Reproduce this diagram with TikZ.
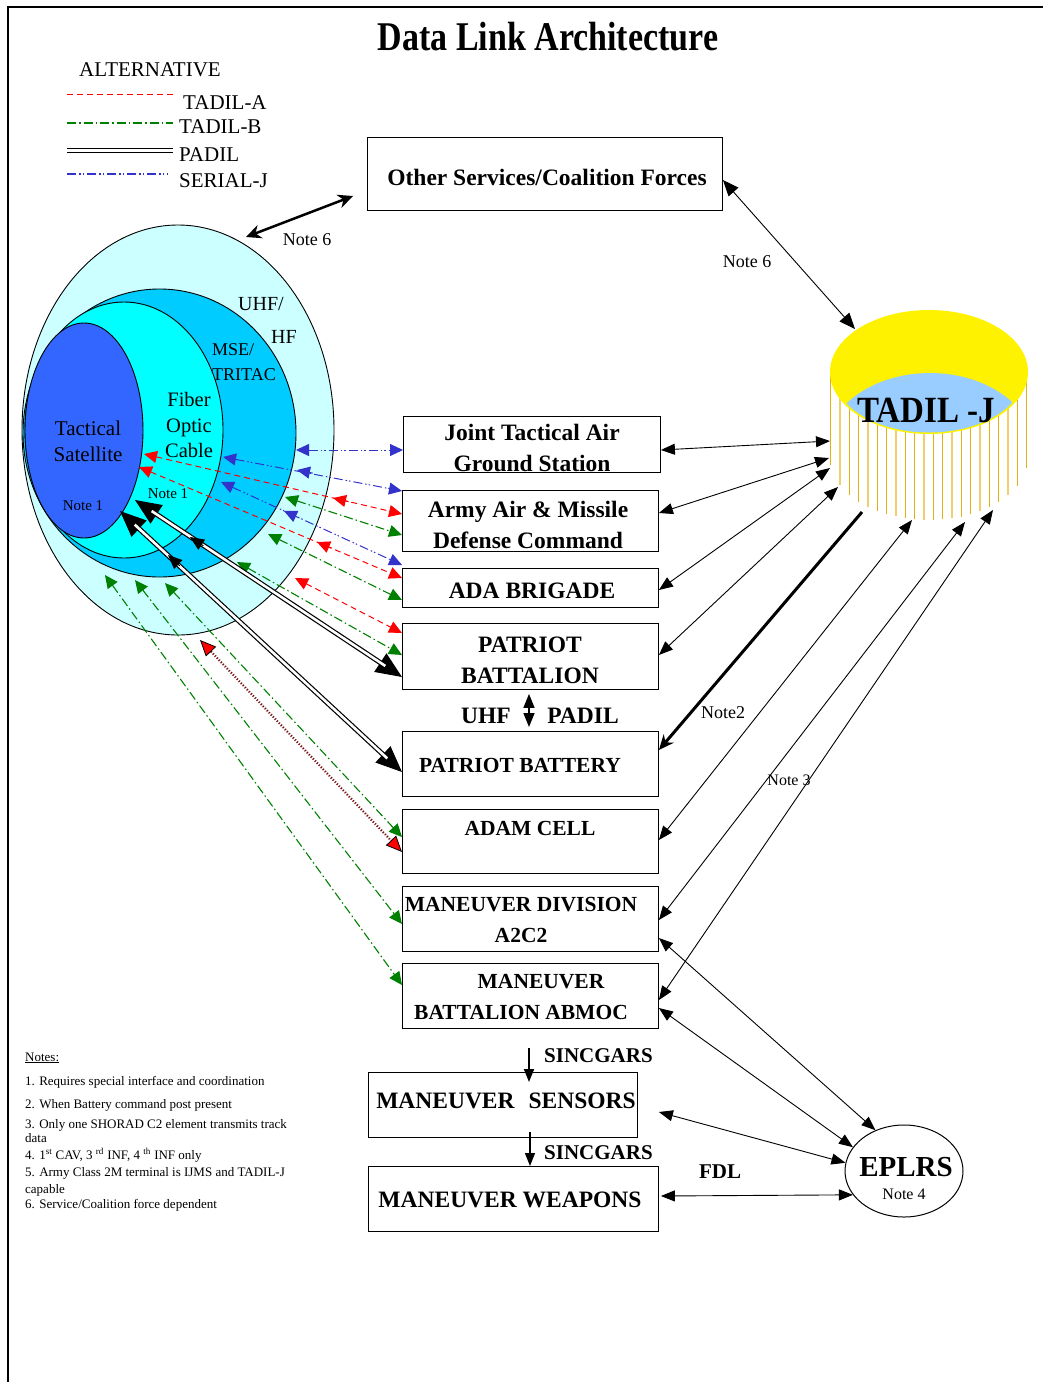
\documentclass[tikz,border=0pt]{standalone}
\usepackage{fontspec}
\setmainfont{Liberation Serif}
\usepackage{graphicx}
\usetikzlibrary{arrows.meta,calc,shapes.geometric}
\definecolor{tred}{RGB}{255,0,0}
\definecolor{tgreen}{RGB}{0,128,0}
\definecolor{tblue}{RGB}{51,51,204}
\definecolor{uhfc}{RGB}{204,255,255}
\definecolor{msec}{RGB}{0,204,255}
\definecolor{fibc}{RGB}{0,255,255}
\definecolor{satc}{RGB}{51,102,255}
\definecolor{capblue}{RGB}{153,204,255}
\definecolor{goldA}{RGB}{226,176,20}
\definecolor{goldB}{RGB}{240,208,110}
\definecolor{dotred}{RGB}{120,20,20}
\newcommand\bxf{\fontsize{23.5}{31}\selectfont\bfseries}
\newcommand\bxs{\fontsize{21.5}{31}\selectfont\bfseries}
\begin{document}
\begin{tikzpicture}[x=1pt,y=-1pt,
  ctip/.tip={Triangle[length=13pt,width=12pt]},
  ktip/.tip={Triangle[length=14pt,width=11pt]},
  btip/.tip={Triangle[length=26pt,width=22pt]},
  mtip/.tip={Triangle[length=14pt,width=12pt]},
  dtip/.tip={Triangle[length=16pt,width=14pt,fill=red,color=black,line width=0.8pt]},
  ntip/.tip={Stealth[length=15pt,width=14pt]},
  box/.style={draw, line width=0.9pt, inner sep=0pt, anchor=north west},
  bx/.style={font=\bxf, align=center, inner sep=0pt},
  bxn/.style={font=\bxs, align=center, inner sep=0pt},
  lab/.style={font=\fontsize{21}{26}\selectfont, align=center, inner sep=0pt},
  leg/.style={font=\fontsize{21}{26}\selectfont, inner sep=0pt, anchor=west},
  notel/.style={font=\fontsize{18}{22}\selectfont, inner sep=0pt},
  smalln/.style={font=\fontsize{15}{18}\selectfont, inner sep=0pt},
  notes/.style={font=\fontsize{13}{15}\selectfont, inner sep=0pt, anchor=base west},
  redl/.style={tred, line width=1pt, dash pattern=on 6pt off 4pt},
  greenl/.style={tgreen, line width=1.1pt, dash pattern=on 9pt off 3pt on 1.5pt off 3pt},
  bluel/.style={tblue, line width=1pt, dash pattern=on 9pt off 3pt on 1.5pt off 2pt on 1.5pt off 3pt},
  blk/.style={line width=0.9pt, ktip-ktip},
  padil/.style={double, double distance=2.6pt, line width=1.2pt},
  dotl/.style={dotred, line width=2.2pt, dash pattern=on 1.2pt off 1.7pt, dtip-dtip},
  ell/.style={draw, line width=0.9pt}
]
\useasboundingbox (0,0) rectangle (1043,1382);
% frame
\draw[line width=1.2pt] (8,1382) -- (8,7) -- (1043,7);
% title
\node[inner sep=0pt] (title) at (548,37) {\fontsize{34}{40}\selectfont\bfseries\scalebox{1}[1.2]{Data Link Architecture}};

% legend
\node[leg] (altl) at (79,70) {ALTERNATIVE};
\draw[redl] (67,94) -- (173,94);
\node[leg] (lega) at (183,103) {TADIL-A};
\draw[greenl, line width=1.3pt] (67,123) -- (173,123);
\node[leg] (legb) at (179,127) {TADIL-B};
\draw[padil, double distance=2.2pt, line width=1.4pt] (67,150.5) -- (173,150.5);
\node[leg] (legp) at (179,155) {PADIL};
\draw[bluel, line width=1.2pt] (67,174) -- (168,174);
\node[leg] (legs) at (179,181) {SERIAL-J};

% ellipses
\filldraw[ell, fill=uhfc] (178,430) ellipse [x radius=156pt, y radius=205pt];
\filldraw[ell, fill=msec] (159.5,433) ellipse [x radius=136.5pt, y radius=144pt];
\filldraw[ell, fill=fibc] (124,430) ellipse [x radius=99pt, y radius=128pt];
\filldraw[ell, fill=satc] (84,430.5) ellipse [x radius=59pt, y radius=107.5pt];
\node[lab] (sattxt) at (88,441) {Tactical\\Satellite};
\node[lab, font=\fontsize{20.5}{25.5}\selectfont] (fibtxt) at (189,425) {Fiber\\Optic\\Cable};
\node[lab, font=\fontsize{18}{25}\selectfont, align=left, anchor=west] (msetxt) at (212,362) {MSE/\\TRITAC};
\node[lab, font=\fontsize{20}{24}\selectfont] (uhftxt) at (261,304) {UHF/};
\node[lab, font=\fontsize{20}{24}\selectfont] (hftxt) at (284,337) {HF};
\node[smalln] (n1a) at (83,506) {Note 1};
\node[smalln] (n1b) at (168,494) {Note 1};

% boxes
\node[box, minimum width=355pt, minimum height=73pt] (oth) at (367,137) {};
\node[bx] (othtxt) at (547,177) {Other Services/Coalition Forces};
\node[box, minimum width=257pt, minimum height=56pt] (jtags) at (403,416) {};
\node[bx] (jtagstxt) at (532,448) {Joint Tactical Air\\Ground Station};
\node[box, minimum width=256pt, minimum height=61pt] (army) at (402,490) {};
\node[bx] (armytxt) at (528,525) {Army Air \& Missile\\Defense Command};
\node[box, minimum width=256pt, minimum height=39pt] (ada) at (402,568) {};
\node[bx] (adatxt) at (532,591) {ADA BRIGADE};
\node[box, minimum width=256pt, minimum height=66pt] (pbn) at (402,623) {};
\node[bx] (pbntxt) at (530,660) {PATRIOT\\BATTALION};
\node[bx] (uhfl) at (486,716) {UHF};
\node[bx] (padl) at (583,716) {PADIL};
\node[box, minimum width=256pt, minimum height=65pt] (pbty) at (402,731) {};
\node[bxn] (pbtytxt) at (520,765) {PATRIOT BATTERY};
\node[box, minimum width=256pt, minimum height=64pt] (adam) at (402,809) {};
\node[bxn] (adamtxt) at (530,828) {ADAM CELL};
\node[box, minimum width=256pt, minimum height=65pt] (mdiv) at (402,886) {};
\node[bxn] (mdivtxt) at (521,920) {MANEUVER DIVISION\\A2C2};
\node[box, minimum width=256pt, minimum height=65pt] (abmoc) at (402,963) {};
\node[bxn] (abmoctxt) at (521,997) {\hspace*{40pt}MANEUVER\\BATTALION ABMOC};
\node[box, minimum width=269pt, minimum height=65pt] (sens) at (368,1072) {};
\node[bx] (senstxt) at (506,1101) {MANEUVER\hspace{14pt}SENSORS};
\node[box, minimum width=290pt, minimum height=65pt] (weap) at (368,1166) {};
\node[bx] (weaptxt) at (510,1200) {MANEUVER WEAPONS};
\node[bx, font=\fontsize{21}{25}\selectfont\bfseries, anchor=west] (sinc1) at (544,1056) {SINCGARS};
\node[bx, font=\fontsize{21}{25}\selectfont\bfseries, anchor=west] (sinc2) at (544,1153) {SINCGARS};
\node[bx, font=\fontsize{21}{25}\selectfont\bfseries] (fdl) at (720,1172) {FDL};

% EPLRS
\node[draw, ellipse, line width=1pt, minimum width=118pt, minimum height=92pt, inner sep=0pt] (eplrs) at (904,1171) {};
\node[bx, font=\fontsize{29}{33}\selectfont\bfseries] (eplrstxt) at (906,1167) {EPLRS};
\node[smalln, font=\fontsize{16}{18}\selectfont] (n4) at (904,1194) {Note 4};

% TADIL-J cylinder
\foreach \i in {0,...,21}{
  \pgfmathsetmacro\xx{830.7+9.333*\i}
  \pgfmathsetmacro\dy{62*sqrt(max(0,1-((\xx-929)/99)^2))}
  \pgfmathtruncatemacro\pp{mod(\i,3)}
  \ifnum\pp=1
    \draw[goldB, line width=1.4pt] (\xx,372) -- (\xx,372+\dy+86);
  \else
    \draw[goldA, line width=1.3pt] (\xx,372) -- (\xx,372+\dy+86);
  \fi
}
\node[ellipse, fill=yellow, minimum width=198pt, minimum height=124pt, inner sep=0pt] (tadj) at (929,372) {};
\begin{scope}
  \clip (929,373) ellipse [x radius=96pt, y radius=59.5pt];
  \fill[capblue] (930,452) ellipse [x radius=106pt, y radius=79pt];
\end{scope}
\node[bx, font=\fontsize{33}{36}\selectfont\bfseries] (tadjtxt) at (926,410) {\scalebox{1}[1.12]{TADIL -J}};

% notes
\node[notes] (nh) at (25,1061) {\underline{Notes:}};
\node[notes] (nt1) at (25,1085) {1. Requires special interface and coordination};
\node[notes] (nt2) at (25,1108) {2. When Battery command post present};
\node[notes] (nt3) at (25,1128) {3. Only one SHORAD C2 element transmits track};
\node[notes] (nt3b) at (25,1142) {data};
\node[notes] (nt4) at (25,1159) {4. 1\textsuperscript{st} CAV, 3 \textsuperscript{rd} INF, 4 \textsuperscript{th} INF only};
\node[notes] (nt5) at (25,1176) {5. Army Class 2M terminal is IJMS and TADIL-J};
\node[notes] (nt5b) at (25,1193) {capable};
\node[notes] (nt6) at (25,1208) {6. Service/Coalition force dependent};

% other labels
\node[notel] (n6t) at (307,240) {Note 6};
\node[notel] (n6r) at (747,262) {Note 6};
\node[notel] (n2) at (723,713) {Note2};
\node[smalln, font=\fontsize{16}{18}\selectfont] (n3) at (789,780) {Note 3};

% ---------- coordinates ----------
\coordinate (b1a) at (296,450);
\coordinate (b2a) at (223,457);  \coordinate (b2m) at (297,470);
\coordinate (b3a) at (221,482);  \coordinate (b3m) at (284,511);
\coordinate (r1a) at (144,454);  \coordinate (r1m) at (333,498);
\coordinate (r2a) at (139,467);  \coordinate (r2m) at (317,542);
\coordinate (r3a) at (295,578);
\coordinate (g1a) at (285,497);
\coordinate (g2a) at (268,534);
\coordinate (g3a) at (237,562);
\coordinate (g4a) at (165,583);
\coordinate (g5a) at (135,580);
\coordinate (g6a) at (105,575);
\coordinate (da) at (200,640);
\coordinate (p1a) at (135,500); \coordinate (p1m) at (190,537);
\coordinate (p2a) at (120,511); \coordinate (p2m) at (168,555);
\coordinate (n6a) at (246,237);

\coordinate (b1b) at ([yshift=-34pt]jtags.north west);
\coordinate (b2b) at ([yshift=-1pt]army.north west);
\coordinate (r1b) at ([yshift=-24pt]army.north west);
\coordinate (g1b) at ([yshift=-45pt]army.north west);
\coordinate (b3b) at ([yshift=3pt]ada.north west);
\coordinate (r2b) at ([yshift=-10pt]ada.north west);
\coordinate (g2b) at ([yshift=-32pt]ada.north west);
\coordinate (r3b) at ([yshift=-10pt]pbn.north west);
\coordinate (g3b) at ([yshift=-32pt]pbn.north west);
\coordinate (p1b) at ([yshift=-54pt]pbn.north west);
\coordinate (p2b) at ([yshift=-41pt]pbty.north west);
\coordinate (g4b) at ([yshift=-28pt]adam.north west);
\coordinate (db) at ([yshift=-43pt]adam.north west);
\coordinate (g5b) at ([yshift=-38pt]mdiv.north west);
\coordinate (g6b) at ([yshift=-22pt]abmoc.north west);

\coordinate (tj0) at (855,329);
\coordinate (tj1) at (830,441);
\coordinate (tj2) at (829,458);
\coordinate (tj3) at (830,468);
\coordinate (tj4) at (838,487);
\coordinate (tj5) at (862,512);
\coordinate (tj6) at (912,520);
\coordinate (tj7) at (965,522);
\coordinate (tj8) at (993,510);

\coordinate (o1) at ([yshift=-43pt]oth.north east);
\coordinate (t1) at ([yshift=-34pt]jtags.north east);
\coordinate (t2) at ([yshift=-23pt]army.north east);
\coordinate (t3) at ([yshift=-22pt]ada.north east);
\coordinate (t4) at ([yshift=-32pt]pbn.north east);
\coordinate (t5) at ([yshift=-19pt]pbty.north east);
\coordinate (t6) at ([yshift=-31pt]adam.north east);
\coordinate (t7) at ([yshift=-34pt]mdiv.north east);
\coordinate (t8) at ([yshift=-37pt]abmoc.north east);
\coordinate (e1) at ([yshift=-52pt]mdiv.north east);
\coordinate (e2) at ([yshift=-45pt]abmoc.north east);
\coordinate (e3) at ([xshift=21pt,yshift=-40pt]sens.north east);
\coordinate (e4) at ([xshift=2pt,yshift=-30pt]weap.north east);
\coordinate (n6b) at ([xshift=-14pt,yshift=-59pt]oth.north west);
\coordinate (s1a) at (529,1048);
\coordinate (s1b) at ([xshift=161pt,yshift=-10pt]sens.north west);
\coordinate (s2a) at ([xshift=162pt,yshift=-60pt]sens.north west);
\coordinate (s2b) at ([xshift=162pt]weap.north west);
\coordinate (u1) at ([xshift=127pt,yshift=-4pt]pbn.south west);
\coordinate (u2) at ([xshift=127pt,yshift=4pt]pbty.north west);

% ---------- colored links ----------
\draw[bluel, ctip-ctip] (b1a) -- (b1b);
\draw[bluel, ctip-ctip] (b2a) -- (b2b);
\draw[tblue, line width=1pt, -ctip] ($(b2m)!16pt!(b2b)$) -- (b2m);
\draw[bluel, ctip-ctip] (b3a) -- (b3b);
\draw[tblue, line width=1pt, -ctip] ($(b3m)!16pt!(b3b)$) -- (b3m);
\draw[redl, ctip-ctip] (r1a) -- (r1b);
\draw[tred, line width=1pt, -ctip] ($(r1m)!16pt!(r1b)$) -- (r1m);
\draw[redl, ctip-ctip] (r2a) -- (r2b);
\draw[tred, line width=1pt, -ctip] ($(r2m)!16pt!(r2b)$) -- (r2m);
\draw[redl, ctip-ctip] (r3a) -- (r3b);
\draw[greenl, ctip-ctip] (g1a) -- (g1b);
\draw[greenl, ctip-ctip] (g2a) -- (g2b);
\draw[greenl, ctip-ctip] (g3a) -- (g3b);
\draw[greenl, ctip-ctip] (g4a) -- (g4b);
\draw[greenl, ctip-ctip] (g5a) -- (g5b);
\draw[greenl, ctip-ctip] (g6a) -- (g6b);
\draw[dotl] (da) -- (db);

% ---------- PADIL ----------
\draw[line width=1.2pt, btip-btip] (p1a) -- (p1b);
\draw[padil, shorten <=20pt, shorten >=20pt] (p1a) -- (p1b);
\draw[line width=1pt, -mtip] ($(p1m)!16pt!(p1b)$) -- (p1m);
\draw[line width=1.2pt, btip-btip] (p2a) -- (p2b);
\draw[padil, shorten <=20pt, shorten >=20pt] (p2a) -- (p2b);
\draw[line width=1pt, -mtip] ($(p2m)!16pt!(p2b)$) -- (p2m);

% ---------- black links ----------
\draw[line width=2.5pt, ntip-ntip] (n6a) -- (n6b);
\draw[blk, {Triangle[length=16pt,width=13pt]}-{Triangle[length=16pt,width=13pt]}] (o1) -- (tj0);
\draw[blk] (t1) -- (tj1);
\draw[blk] (t2) -- (tj2);
\draw[blk] (t3) -- (tj3);
\draw[blk] (t4) -- (tj4);
\draw[line width=3pt, -{Stealth[length=15pt,width=13pt]}] (tj5) -- (t5);
\draw[blk] (t6) -- (tj6);
\draw[blk] (t7) -- (tj7);
\draw[blk] (t8) -- (tj8);
\draw[blk] (e1) -- (eplrs.125);
\draw[blk] (e2) -- (eplrs.155);
\draw[blk] (e3) -- (eplrs.172);
\draw[blk] (e4) -- (eplrs.205);
\draw[line width=1.8pt, -{Triangle[length=13pt,width=10pt]}] (s1a) -- (s1b);
\draw[line width=1.3pt, -{Triangle[length=13pt,width=10pt]}] (s2a) -- (s2b);
\draw[line width=1.5pt, {Triangle[length=14pt,width=11pt]}-{Triangle[length=14pt,width=11pt]}] (u1) -- (u2);
\end{tikzpicture}
\end{document}
